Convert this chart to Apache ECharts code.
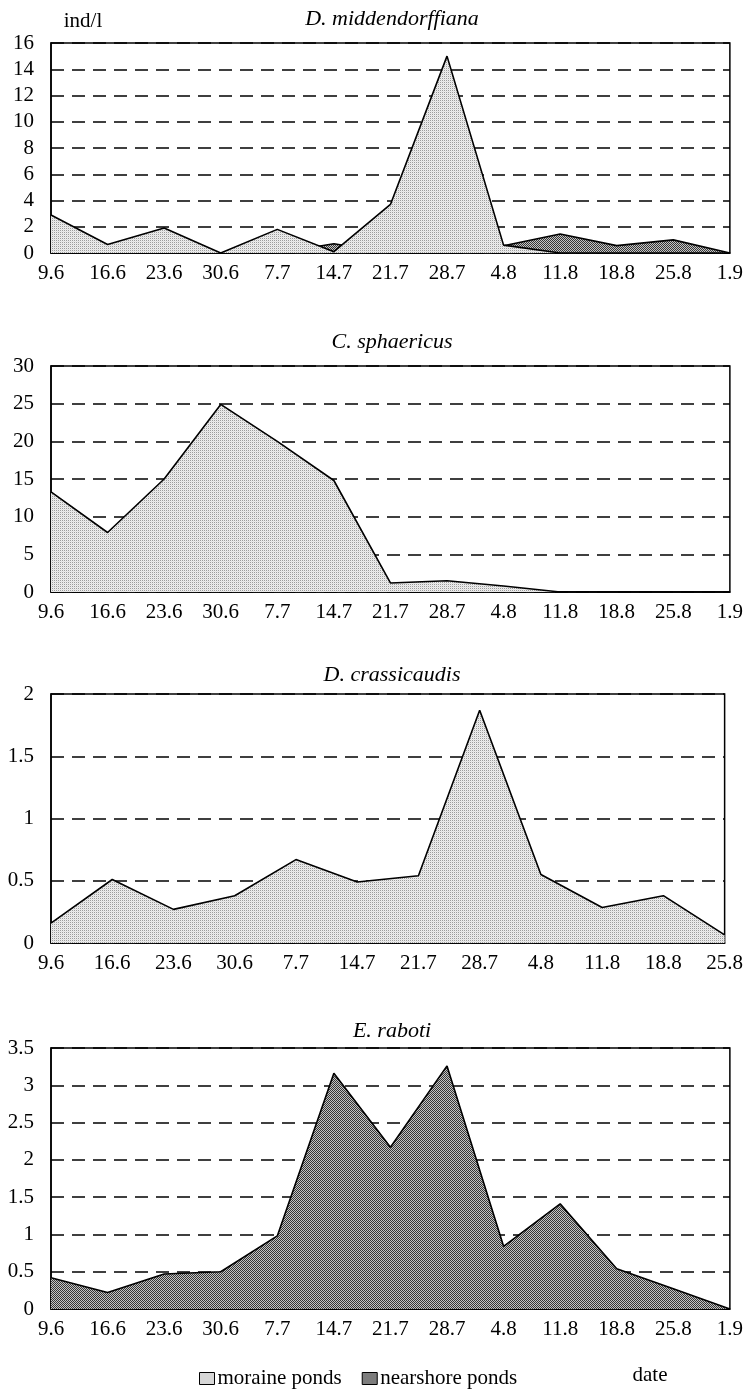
<!DOCTYPE html>
<html>
<head>
<meta charset="utf-8">
<script src="https://cdn.jsdelivr.net/npm/echarts@6/dist/echarts.min.js"></script>
<style>
html,body{margin:0;padding:0;background:#fff;}
#chart{width:746px;height:1400px;}
</style>
</head>
<body>
<div id="chart"></div>
<script>
// ---- data ----
const dates13 = ['9.6','16.6','23.6','30.6','7.7','14.7','21.7','28.7','4.8','11.8','18.8','25.8','1.9'];
const dates12 = ['9.6','16.6','23.6','30.6','7.7','14.7','21.7','28.7','4.8','11.8','18.8','25.8'];

const titles = ['D. middendorffiana','C. sphaericus','D. crassicaudis','E. raboti'];

const midMoraine   = [2.9, 0.65, 1.9, 0, 1.8, 0.1, 3.7, 15.0, 0.6, 0, 0, 0, 0];
const midNearshore = [0, 0, 0, 0, 0, 0.7, 0, 0, 0.55, 1.45, 0.56, 1.0, 0];

const sphMoraine   = [13.3, 7.9, 15.0, 24.9, 20.0, 14.8, 1.2, 1.5, 0.8, 0, 0, 0, 0];

const craMoraine   = [0.16, 0.51, 0.27, 0.38, 0.67, 0.49, 0.54, 1.87, 0.55, 0.285, 0.38, 0.065];

const rabNearshore = [0.42, 0.22, 0.47, 0.5, 0.98, 3.16, 2.17, 3.26, 0.84, 1.41, 0.54, 0.27, 0];

const yMax = [16, 30, 2, 3.5];
const yInterval = [2, 5, 0.5, 0.5];

// ---- styles ----
function makePattern(cells, size) {
  const c = document.createElement('canvas');
  c.width = size; c.height = size;
  const ctx = c.getContext('2d');
  for (let y = 0; y < size; y++) for (let x = 0; x < size; x++) {
    ctx.fillStyle = cells[y][x];
    ctx.fillRect(x, y, 1, 1);
  }
  return { image: c, repeat: 'repeat' };
}
const moraineFill = makePattern([['#9c9c9c','#eeeeee'],['#eeeeee','#e0e0e0']], 2);
const nearFill = makePattern([['#363636','#c4c4c4'],['#c4c4c4','#363636']], 2);

const FONT = 'Liberation Serif';
const grids = [
  {left: 51, right: 13, top: 43, height: 210},
  {left: 51, right: 13, top: 366, height: 226},
  {left: 51, right: 13, top: 694, height: 249},
  {left: 51, right: 13, top: 1048, height: 261}
];
const titleY = [19, 342, 675, 1031];

const chart = echarts.init(document.getElementById('chart'), null, {renderer: 'canvas'});

const xAxes = grids.map((g, i) => ({
  type: 'category', gridIndex: i, boundaryGap: false,
  data: i === 2 ? dates12 : dates13,
  axisTick: {show: false},
  axisLine: {show: true, lineStyle: {color: '#000', width: 1.5}},
  axisLabel: {interval: 0, color: '#000', fontFamily: FONT, fontSize: 21, margin: 10},
  splitLine: {show: false}
}));
const yAxes = grids.map((g, i) => ({
  type: 'value', gridIndex: i, min: 0, max: yMax[i], interval: yInterval[i],
  axisTick: {show: false},
  axisLine: {show: true, lineStyle: {color: '#000', width: 1.5}},
  axisLabel: {color: '#000', fontFamily: FONT, fontSize: 21, margin: 17},
  splitLine: {show: true, lineStyle: {color: '#000', width: 1.6, type: [13, 8]}}
}));

function area(name, data, i, fill, z) {
  return {
    name: name, type: 'line', xAxisIndex: i, yAxisIndex: i, data: data,
    showSymbol: false, symbol: 'none', z: z, silent: true, animation: false,
    lineStyle: {color: '#000', width: 1.6},
    itemStyle: {color: fill},
    areaStyle: {color: fill, opacity: 1}
  };
}

const series = [
  area('nearshore ponds', midNearshore, 0, nearFill, 2),
  area('moraine ponds', midMoraine, 0, moraineFill, 3),
  area('moraine ponds', sphMoraine, 1, moraineFill, 3),
  area('moraine ponds', craMoraine, 2, moraineFill, 3),
  area('nearshore ponds', rabNearshore, 3, nearFill, 2)
];

const graphics = titles.map((t, i) => ({
  type: 'text', x: 392, y: titleY[i],
  style: {text: t, font: 'italic 22px "Liberation Serif"', fill: '#000', textAlign: 'center', textVerticalAlign: 'middle'}
}));
graphics.push({type: 'text', x: 83, y: 21,
  style: {text: 'ind/l', font: '21px "Liberation Serif"', fill: '#000', textAlign: 'center', textVerticalAlign: 'middle'}});
graphics.push({type: 'text', x: 650, y: 1375,
  style: {text: 'date', font: '21px "Liberation Serif"', fill: '#000', textAlign: 'center', textVerticalAlign: 'middle'}});

chart.setOption({
  animation: false,
  backgroundColor: '#fff',
  grid: grids.map(g => Object.assign({show: true, borderColor: '#000', borderWidth: 1.5, backgroundColor: 'transparent'}, g)),
  xAxis: xAxes,
  yAxis: yAxes,
  legend: {
    left: 194, top: 1363, icon: 'rect', itemWidth: 15, itemHeight: 12, itemGap: 20,
    textStyle: {color: '#000', fontFamily: FONT, fontSize: 21, padding: [0,0,0,-2]},
    selectedMode: false,
    data: [
      {name: 'moraine ponds', itemStyle: {color: moraineFill, borderColor: '#000', borderWidth: 1}},
      {name: 'nearshore ponds', itemStyle: {color: nearFill, borderColor: '#000', borderWidth: 1}}
    ]
  },
  graphic: graphics,
  series: series
});
</script>
</body>
</html>
